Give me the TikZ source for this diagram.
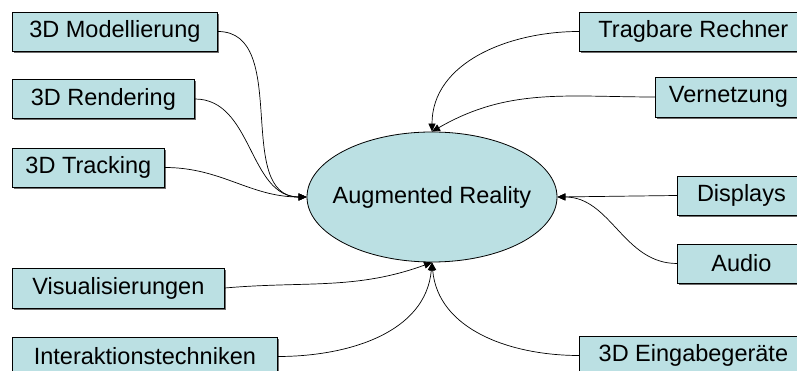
\documentclass[tikz,border=0pt]{standalone}
\usepackage{fontspec}
\setmainfont{Liberation Sans}
\usetikzlibrary{arrows.meta,shapes.geometric,shadows}
\definecolor{boxfill}{RGB}{187,224,227}
\definecolor{shadowgray}{RGB}{110,110,110}
\tikzset{
  topic/.style={draw=black, line width=0.8pt, fill=boxfill, rectangle, anchor=west,
    inner sep=0pt, minimum height=39pt, font=\fontsize{23.5}{26}\selectfont,
    drop shadow={shadow xshift=1.6pt, shadow yshift=-1.6pt, fill=shadowgray, opacity=1}},
  core/.style={draw=black, line width=0.8pt, fill=boxfill, ellipse, inner xsep=-12.5pt, inner ysep=0pt,
    minimum width=250pt, minimum height=130pt, font=\fontsize{23.5}{26}\selectfont},
  link/.style={draw=black, line width=0.7pt, -{Triangle[length=8pt,width=7pt]}}
}
\begin{document}
\begin{tikzpicture}[x=1pt,y=1pt]
\useasboundingbox (0,0) rectangle (797,371);
\clip (0,0) rectangle (797,371);
\fill[white] (0,0) rectangle (797,371);
\node[core] (ar) at (432,174) {Augmented Reality};
\node[topic, minimum width=205pt] (mod) at (12,339.5) {3D Modellierung};
\node[topic, minimum width=182pt] (ren) at (12,272) {3D Rendering};
\node[topic, minimum width=152pt] (tra) at (12,203.5) {3D Tracking};
\node[topic, minimum width=212pt, minimum height=40pt] (vis) at (12,83) {Visualisierungen};
\node[topic, minimum width=265pt] (int) at (12,14.5) {Interaktionstechniken};
\node[topic, minimum width=228pt] (rech) at (579,339.5) {Tragbare Rechner};
\node[topic, minimum width=146pt, minimum height=40pt] (netz) at (655,274) {Vernetzung};
\node[topic, minimum width=128pt] (disp) at (677,175.5) {Displays};
\node[topic, minimum width=128pt] (aud) at (677,107.5) {Audio};
\node[topic, minimum width=228pt] (ein) at (579,15.5) {3D Eingabeger\"ate};
\draw[link] (mod.east) to[out=0,in=180] (ar.west);
\draw[link] (ren.east) to[out=0,in=180] (ar.west);
\draw[link] (tra.east) to[out=0,in=180] (ar.west);
\draw[link] (rech.west) to[out=180,in=90] (ar.north);
\draw[link] (netz.west) to[out=180,in=30] (ar.north);
\draw[link] (disp.west) -- (ar.east);
\draw[link] (aud.west) to[out=180,in=0] (ar.east);
\draw[link] (vis.east) to[out=5,in=200] (ar.south);
\draw[link] (int.east) to[out=0,in=-95] (ar.south);
\draw[link] (ein.west) to[out=180,in=-85] (ar.south);
\end{tikzpicture}
\end{document}
